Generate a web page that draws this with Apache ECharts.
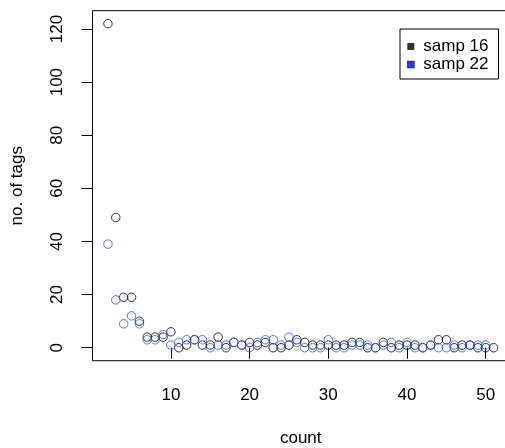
<!DOCTYPE html>
<html>
<head>
<meta charset="utf-8">
<script src="https://cdn.jsdelivr.net/npm/echarts@6/dist/echarts.min.js"></script>
<style>
  html, body { margin: 0; padding: 0; background: #fff; }
  #chart { width: 505px; height: 448px; }
</style>
</head>
<body>
<div id="chart"></div>
<script>
// count values (x) and number of tags per count for the two samples
const counts = [];
for (let c = 2; c <= 51; c++) counts.push(c);

const samp16 = [122, 49, 19, 19, 10, 4, 4, 4, 6, 0,
                1, 3, 1, 1, 4, 0, 2, 1, 2, 1,
                2, 0, 0, 1, 3, 2, 1, 1, 1, 1,
                1, 2, 2, 0, 0, 2, 0, 1, 1, 1,
                0, 1, 3, 3, 0, 1, 1, 0, 0, 0];

const samp22 = [39, 18, 9, 12, 9, 3, 3, 5, 1, 2,
                3, 3, 3, 0, 1, 1, 2, 1, 0, 2,
                3, 3, 1, 4, 2, 0, 0, 0, 3, 0,
                0, 1, 1, 1, 0, 1, 2, 0, 2, 0,
                0, 1, 0, 0, 1, 0, 1, 1, 1];

const xTicks = [10, 20, 30, 40, 50];
const yTicks = [0, 20, 40, 60, 80, 100, 120];

const BLUE = '#2b50ff';
const FONT = '"Liberation Sans", Arial, Helvetica, sans-serif';

function pairs(vals) {
  return vals.map((v, i) => [counts[i], v]);
}

const chart = echarts.init(document.getElementById('chart'), null, { renderer: 'canvas' });

chart.setOption({
  animation: false,
  backgroundColor: '#fff',
  grid: {
    left: 92.5, top: 10.7, right: -4, bottom: 87.3,
    show: true, borderColor: '#000', borderWidth: 1,
    backgroundColor: 'transparent', containLabel: false,
    outerBoundsMode: 'none'
  },
  xAxis: {
    type: 'value',
    min: 0.04, max: 52.96,
    name: 'count', nameLocation: 'middle', nameGap: 69,
    nameTextStyle: { fontFamily: FONT, fontSize: 17, color: '#000' },
    axisLine: { show: false },
    splitLine: { show: false },
    axisTick: { show: true, length: 11, lineStyle: { color: '#000' }, customValues: xTicks },
    axisLabel: { fontFamily: FONT, fontSize: 17, color: '#000', margin: 26, customValues: xTicks }
  },
  yAxis: {
    type: 'value',
    min: -4.88, max: 126.88,
    name: 'no. of tags', nameLocation: 'middle', nameGap: 67,
    nameTextStyle: { fontFamily: FONT, fontSize: 17, color: '#000' },
    axisLine: { show: false },
    splitLine: { show: false },
    axisTick: { show: true, length: 11, lineStyle: { color: '#000' }, customValues: yTicks },
    axisLabel: { fontFamily: FONT, fontSize: 17, color: '#000', rotate: 90, margin: 27, customValues: yTicks }
  },
  legend: {
    orient: 'vertical',
    left: 400, top: 29,
    padding: [9, 10, 6, 7],
    itemWidth: 7, itemHeight: 7, itemGap: 1,
    backgroundColor: '#fff',
    borderColor: '#000', borderWidth: 1, borderRadius: 0,
    textStyle: { fontFamily: FONT, fontSize: 17, color: '#000', lineHeight: 17, padding: [0, 0, 0, 4] },
    data: [
      { name: 'samp 16', icon: 'rect', itemStyle: { color: '#000', borderWidth: 0 } },
      { name: 'samp 22', icon: 'rect', itemStyle: { color: '#0000ff', borderColor: '#000', borderWidth: 0.6 } }
    ]
  },
  series: [
    {
      name: 'samp 16', type: 'scatter', data: pairs(samp16),
      symbol: 'circle', symbolSize: 8.5,
      itemStyle: { color: 'transparent', borderColor: '#000', borderWidth: 1 }
    },
    {
      name: 'samp 22', type: 'scatter', data: pairs(samp22),
      symbol: 'circle', symbolSize: 8.5,
      itemStyle: { color: 'transparent', borderColor: BLUE, borderWidth: 1 }
    }
  ]
});
</script>
</body>
</html>
